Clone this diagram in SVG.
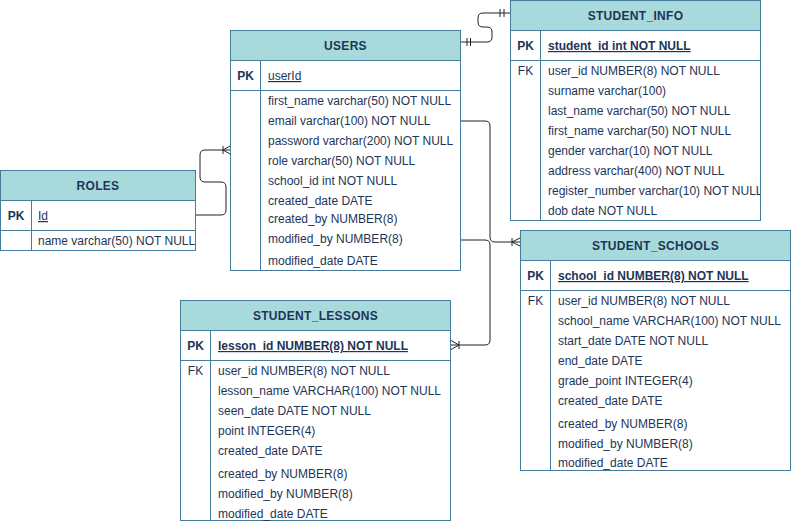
<svg xmlns="http://www.w3.org/2000/svg" width="791" height="524" viewBox="0 0 791 524">
<defs>
<style>
.hd{fill:#A8DADC;stroke:#457B9D;stroke-width:1}
.bd{fill:#FFFFFF;stroke:#457B9D;stroke-width:1}
.ln{stroke:#457B9D;stroke-width:1;fill:none}
text{font-family:"Liberation Sans",Arial,sans-serif;font-size:12px;fill:#1D3557}
.t{font-weight:bold;text-anchor:middle;letter-spacing:0.3px}
.k{font-weight:bold;text-anchor:middle}
.f{text-anchor:middle}
.pk{text-decoration:underline}
.pkb{text-decoration:underline;font-weight:bold}
.c{stroke:#222;stroke-width:1;fill:none}
</style>
<clipPath id="clipRoles"><rect x="0" y="170" width="195" height="81"/></clipPath>
<clipPath id="clipInfo"><rect x="510" y="0" width="250" height="221"/></clipPath>
</defs>

<g id="connectors">
<path class="c" d="M195,215 H221 Q226,215 226,210 V187 Q226,182 221,182 H205 Q200,182 200,177 V155 Q200,150 205,150 H231"/>
<path class="c" d="M223,146 V154 M223,150 L231,145.5 M223,150 L231,154.5"/>
<path class="c" d="M461,42 H487 Q492,42 492,37 V32 Q492,27 487,27 H483 Q478,27 478,22 V18 Q478,13 483,13 H510"/>
<path class="c" d="M467,38 V46 M470.5,38 V46 M500,9 V17 M504,9 V17"/>
<path class="c" d="M461,121 H485 Q490,121 490,126 V237 Q490,242 495,242 H521"/>
<path class="c" d="M512,238 V246 M512,242 L521,237.5 M512,242 L521,246.5"/>
<path class="c" d="M461,240 H485 Q490,240 490,245 V340 Q490,345 485,345 H451"/>
<path class="c" d="M459,341 V349 M459,345 L451,340.5 M459,345 L451,349.5"/>
</g>

<g id="roles">
<rect class="hd" x="0.5" y="170.5" width="195" height="30"/>
<rect class="bd" x="0.5" y="200.5" width="195" height="50"/>
<path class="ln" d="M0.5,230.5 H195.5 M31.5,200.5 V250.5"/>
<text class="t" x="98" y="190">ROLES</text>
<text class="k" x="16" y="220">PK</text>
<text class="pk" x="38" y="220">Id</text>
<text x="38" y="245" clip-path="url(#clipRoles)">name varchar(50) NOT NULL</text>
</g>

<g id="users">
<rect class="hd" x="230.5" y="30.5" width="230" height="30"/>
<rect class="bd" x="230.5" y="60.5" width="230" height="210"/>
<path class="ln" d="M230.5,90.5 H460.5 M260.5,60.5 V270.5"/>
<text class="t" x="345.5" y="50">USERS</text>
<text class="k" x="245.5" y="80">PK</text>
<text class="pk" x="268" y="80">userId</text>
<text x="268" y="105">first_name varchar(50) NOT NULL</text>
<text x="268" y="125">email varchar(100) NOT NULL</text>
<text x="268" y="145">password varchar(200) NOT NULL</text>
<text x="268" y="165">role varchar(50) NOT NULL</text>
<text x="268" y="185">school_id int NOT NULL</text>
<text x="268" y="205">created_date DATE</text>
<text x="268" y="223">created_by NUMBER(8)</text>
<text x="268" y="243">modified_by NUMBER(8)</text>
<text x="268" y="265">modified_date DATE</text>
</g>

<g id="student_info">
<rect class="hd" x="510.5" y="0.5" width="250" height="30"/>
<rect class="bd" x="510.5" y="30.5" width="250" height="190"/>
<path class="ln" d="M510.5,60.5 H760.5 M540.5,30.5 V220.5"/>
<text class="t" x="635.5" y="20">STUDENT_INFO</text>
<text class="k" x="525.5" y="50">PK</text>
<text class="pkb" x="548" y="50">student_id int NOT NULL</text>
<text class="f" x="525.5" y="75">FK</text>
<g clip-path="url(#clipInfo)">
<text x="548" y="75">user_id NUMBER(8) NOT NULL</text>
<text x="548" y="95">surname varchar(100)</text>
<text x="548" y="115">last_name varchar(50) NOT NULL</text>
<text x="548" y="135">first_name varchar(50) NOT NULL</text>
<text x="548" y="155">gender varchar(10) NOT NULL</text>
<text x="548" y="175">address varchar(400) NOT NULL</text>
<text x="548" y="195">register_number varchar(10) NOT NULL</text>
<text x="548" y="215">dob date NOT NULL</text>
</g>
</g>

<g id="student_schools">
<rect class="hd" x="520.5" y="230.5" width="270" height="30"/>
<rect class="bd" x="520.5" y="260.5" width="270" height="210"/>
<path class="ln" d="M520.5,290.5 H790.5 M550.5,260.5 V470.5"/>
<text class="t" x="655.5" y="250">STUDENT_SCHOOLS</text>
<text class="k" x="535.5" y="280">PK</text>
<text class="pkb" x="558" y="280">school_id NUMBER(8) NOT NULL</text>
<text class="f" x="535.5" y="305">FK</text>
<text x="558" y="305">user_id NUMBER(8) NOT NULL</text>
<text x="558" y="325">school_name VARCHAR(100) NOT NULL</text>
<text x="558" y="345">start_date DATE NOT NULL</text>
<text x="558" y="365">end_date DATE</text>
<text x="558" y="385">grade_point INTEGER(4)</text>
<text x="558" y="405">created_date DATE</text>
<text x="558" y="428">created_by NUMBER(8)</text>
<text x="558" y="448">modified_by NUMBER(8)</text>
<text x="558" y="467">modified_date DATE</text>
</g>

<g id="student_lessons">
<rect class="hd" x="180.5" y="300.5" width="270" height="30"/>
<rect class="bd" x="180.5" y="330.5" width="270" height="190"/>
<path class="ln" d="M180.5,360.5 H450.5 M210.5,330.5 V520.5"/>
<text class="t" x="315.5" y="320">STUDENT_LESSONS</text>
<text class="k" x="195.5" y="350">PK</text>
<text class="pkb" x="218" y="350">lesson_id NUMBER(8) NOT NULL</text>
<text class="f" x="195.5" y="375">FK</text>
<text x="218" y="375">user_id NUMBER(8) NOT NULL</text>
<text x="218" y="395">lesson_name VARCHAR(100) NOT NULL</text>
<text x="218" y="415">seen_date DATE NOT NULL</text>
<text x="218" y="435">point INTEGER(4)</text>
<text x="218" y="455">created_date DATE</text>
<text x="218" y="478">created_by NUMBER(8)</text>
<text x="218" y="498">modified_by NUMBER(8)</text>
<text x="218" y="518">modified_date DATE</text>
</g>
</svg>
